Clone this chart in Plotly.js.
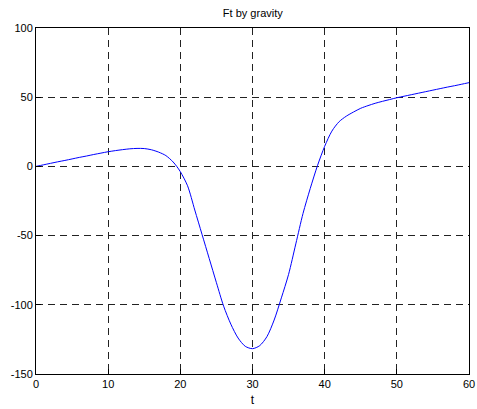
<!DOCTYPE html>
<html>
<head>
<meta charset="utf-8">
<script src="https://cdn.plot.ly/plotly-3.0.1.min.js"></script>
<style>html,body{margin:0;padding:0;background:#fff;}#chart{width:477px;height:409px;}</style>
</head>
<body>
<div id="chart"></div>
<script>
var chartTitle = "Ft by gravity";
var xLabel = "t";
var tValues = [0,1,2,3,4,5,6,7,8,9,10,11,12,13,14,15,16,17,18,19,19.5,20,21,22,23,24,25,26,27,28,29,30,31,32,33,34,35,36,37,38,39,40,41,42,43,44,45,46,47,48,49,50,51,52,53,54,55,56,57,58,59,60];
var ftValues = [0,1.1,2.2,3.3,4.3,5.4,6.5,7.5,8.6,9.6,10.6,11.4,12.1,12.7,13.0,12.9,12.0,10.3,7.8,3.2,0,-3.8,-14,-31.5,-49,-66.5,-84,-101,-114,-124,-130,-131.7,-129.5,-123,-111,-95,-78,-56,-34,-16,0.5,14.5,25.5,32.3,36.3,39.3,42,43.9,45.6,47,48.3,49.6,50.7,51.8,52.9,54,55.1,56.2,57.3,58.3,59.4,60.5];
var xTicks = [0,10,20,30,40,50,60];
var yTicks = [-150,-100,-50,0,50,100];

var fontFamily = "Liberation Sans, Arial, sans-serif";
var axisCommon = {
  showline: true, mirror: true, linecolor: "#000", linewidth: 1,
  ticks: "inside", ticklen: 5, tickcolor: "#000",
  showgrid: true, gridcolor: "#222", gridwidth: 1, griddash: "7px,5px",
  zeroline: false,
  tickfont: {family: fontFamily, size: 11, color: "#000"}
};

var trace = {
  x: tValues, y: ftValues, type: "scatter", mode: "lines",
  line: {color: "#0000FF", width: 1, shape: "spline", smoothing: 0.8},
  hoverinfo: "none"
};

var layout = {
  width: 477, height: 409,
  margin: {l: 36, r: 8, t: 28, b: 35},
  paper_bgcolor: "#fff", plot_bgcolor: "#fff",
  showlegend: false,
  title: {text: chartTitle, x: 0.53, xanchor: "center", y: 0.968, yanchor: "middle",
          font: {family: fontFamily, size: 11, color: "#000"}},
  xaxis: Object.assign({}, axisCommon, {range: [0, 60], tickvals: xTicks, ticktext: xTicks.map(String),
          title: {text: xLabel, standoff: 6, font: {family: fontFamily, size: 12, color: "#000"}}}),
  yaxis: Object.assign({}, axisCommon, {range: [-150, 100], tickvals: yTicks, ticktext: yTicks.map(String)})
};

Plotly.newPlot("chart", [trace], layout, {staticPlot: true, displayModeBar: false});
</script>
</body>
</html>
